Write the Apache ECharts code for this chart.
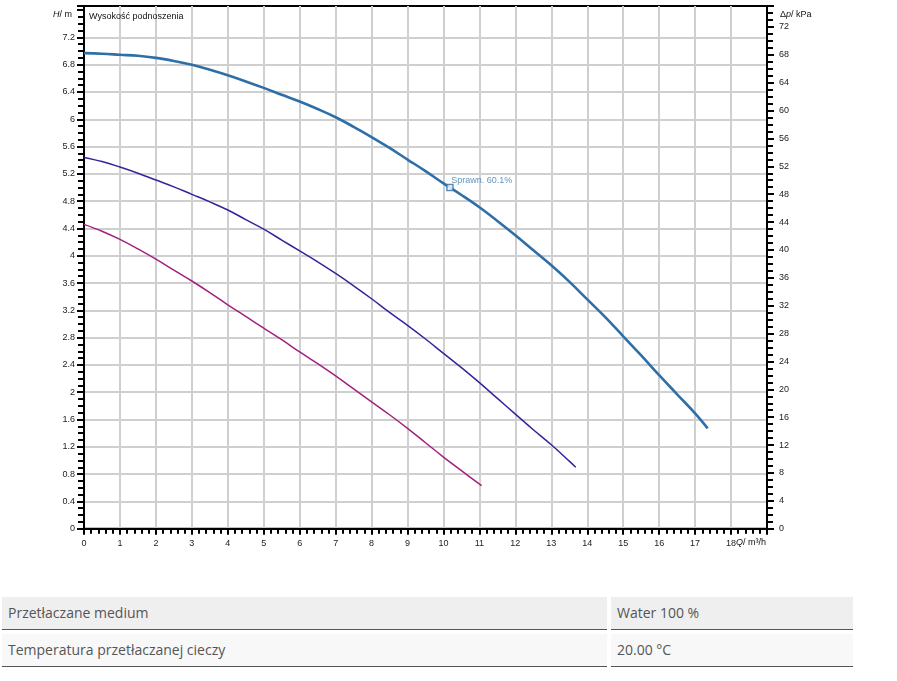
<!DOCTYPE html>
<html>
<head>
<meta charset="utf-8">
<script src="https://cdn.jsdelivr.net/npm/echarts@6/dist/echarts.min.js"></script>
<style>
  html, body { margin: 0; padding: 0; background: #fff; }
  #chart { position: absolute; left: 0; top: 0; width: 897px; height: 681px; }
  .cell { position: absolute; box-sizing: border-box; font-family: "Open Sans", sans-serif; font-size: 14px; color: #555; line-height: 31px; padding-left: 6px; border-bottom: 1px solid #555; }
</style>
</head>
<body>
<div id="chart"></div>
<div class="cell" style="left:2px; top:597px; width:605px; height:33px; background:#efefef;">Przetłaczane medium</div>
<div class="cell" style="left:611px; top:597px; width:242px; height:33px; background:#efefef;">Water 100 %</div>
<div class="cell" style="left:2px; top:634px; width:605px; height:33px; background:#f8f8f8;">Temperatura przetłaczanej cieczy</div>
<div class="cell" style="left:611px; top:634px; width:242px; height:33px; background:#f8f8f8;">20.00 °C</div>
<script>
// ---- data (Q in m³/h, H in m) ----
const qTop = [0,0.5,1,1.5,2,2.5,3,3.5,4,4.5,5,5.5,6,6.5,7,7.5,8,8.5,9,9.5,10,10.5,11,11.5,12,12.5,13,13.5,14,14.5,15,15.5,16,16.5,17,17.35];
const hTop = [6.97,6.96,6.945,6.93,6.90,6.855,6.80,6.725,6.645,6.555,6.46,6.36,6.26,6.15,6.03,5.89,5.74,5.58,5.41,5.24,5.06,4.89,4.71,4.51,4.30,4.08,3.86,3.62,3.36,3.10,2.82,2.54,2.25,1.97,1.69,1.47];
const qMid = [0,0.5,1,1.5,2,2.5,3,3.5,4,4.5,5,5.5,6,6.5,7,7.5,8,8.5,9,9.5,10,10.5,11,11.5,12,12.5,13,13.5,13.68];
const hMid = [5.44,5.38,5.30,5.21,5.11,5.01,4.90,4.79,4.67,4.53,4.39,4.23,4.07,3.91,3.74,3.56,3.37,3.17,2.98,2.78,2.57,2.36,2.14,1.91,1.68,1.45,1.23,0.99,0.90];
const qLow = [0,0.5,1,1.5,2,2.5,3,3.5,4,4.5,5,5.5,6,6.5,7,7.5,8,8.5,9,9.5,10,10.5,11.06];
const hLow = [4.46,4.36,4.24,4.10,3.95,3.79,3.63,3.46,3.28,3.11,2.94,2.77,2.59,2.42,2.24,2.05,1.86,1.67,1.47,1.26,1.05,0.85,0.63];
const opPoint = [10.18, 5.00];
const opLabel = 'Sprawn. 60.1%';
const xMax = 19, xLastLabel = 18;
const hMax = 7.66, hGridMax = 7.2, hStep = 0.4;
const pMax = 75, pStep = 4;

const pairs = (q, h) => q.map((v, i) => [v, h[i]]);

// ---- layout ----
const plotL = 84, plotT = 6, plotW = 683, plotH = 522.7;
const gridLinesH = plotH * hGridMax / hMax;
const FONT = 'Arial, "Liberation Sans", sans-serif';
const GRID_COLOR = '#cfcfcf';

const chart = echarts.init(document.getElementById('chart'), null, { renderer: 'canvas' });
chart.setOption({
  backgroundColor: '#fff',
  animation: false,
  textStyle: { fontFamily: FONT },
  grid: [
    { left: plotL, top: plotT, width: plotW, height: plotH, containLabel: false, outerBoundsMode: 'none',
      show: true, borderColor: '#000', borderWidth: 2, backgroundColor: 'transparent', z: 0 },
    { left: plotL, top: plotT + plotH - gridLinesH, width: plotW, height: gridLinesH, containLabel: false, outerBoundsMode: 'none',
      show: false }
  ],
  xAxis: [
    { gridIndex: 0, type: 'value', min: 0, max: xMax, interval: 1, z: 3,
      axisLine: { show: true, onZero: false, lineStyle: { color: '#000', width: 2 } },
      axisTick: { show: true, length: 6, lineStyle: { color: '#000', width: 2 } },
      minorTick: { show: true, splitNumber: 5, length: 5, lineStyle: { color: '#000', width: 2 } },
      axisLabel: { fontSize: 9, color: '#222', margin: 10, fontFamily: FONT,
        formatter: v => (v > xLastLabel ? '' : String(v)) },
      splitLine: { show: true, lineStyle: { color: GRID_COLOR, width: 2 } },
      minorSplitLine: { show: false }
    },
    { gridIndex: 1, type: 'value', min: 0, max: xMax, show: false, splitLine: { show: false } }
  ],
  yAxis: [
    { gridIndex: 0, type: 'value', position: 'left', min: 0, max: hMax, interval: hStep, z: 4,
      axisLine: { show: true, onZero: false, lineStyle: { color: '#000', width: 2 } },
      axisTick: { show: true, length: 7, lineStyle: { color: '#000', width: 2 } },
      minorTick: { show: true, splitNumber: 4, length: 6, lineStyle: { color: '#000', width: 2 } },
      axisLabel: { fontSize: 9, color: '#222', margin: 9, fontFamily: FONT,
        formatter: v => (v > hGridMax + 0.01 ? '' : String(Math.round(v * 10) / 10)) },
      splitLine: { show: false }
    },
    { gridIndex: 0, type: 'value', position: 'right', min: 0, max: pMax, interval: pStep, z: 4,
      axisLine: { show: true, onZero: false, lineStyle: { color: '#000', width: 2 } },
      axisTick: { show: true, length: 7, lineStyle: { color: '#000', width: 2 } },
      minorTick: { show: true, splitNumber: 4, length: 6, lineStyle: { color: '#000', width: 2 } },
      axisLabel: { fontSize: 9, color: '#222', margin: 12, fontFamily: FONT,
        formatter: v => (v % pStep !== 0 ? '' : String(v)) },
      splitLine: { show: false }
    },
    { gridIndex: 1, type: 'value', min: 0, max: hGridMax, interval: hStep, z: 1,
      axisLine: { show: false }, axisTick: { show: false }, axisLabel: { show: false },
      splitLine: { show: true, lineStyle: { color: GRID_COLOR, width: 2 } }
    }
  ],
  series: [
    { type: 'line', xAxisIndex: 0, yAxisIndex: 0, data: pairs(qLow, hLow), smooth: 0.4, showSymbol: false, z: 10,
      lineStyle: { color: '#a3217c', width: 1.5 } },
    { type: 'line', xAxisIndex: 0, yAxisIndex: 0, data: pairs(qMid, hMid), smooth: 0.4, showSymbol: false, z: 10,
      lineStyle: { color: '#36239a', width: 1.5 } },
    { type: 'line', xAxisIndex: 0, yAxisIndex: 0, data: pairs(qTop, hTop), smooth: 0.4, showSymbol: false, z: 10,
      lineStyle: { color: '#2f6fa7', width: 2.6 } },
    { type: 'scatter', xAxisIndex: 0, yAxisIndex: 0, data: [opPoint], z: 11,
      symbol: 'rect', symbolSize: 6,
      itemStyle: { color: '#fff', borderColor: '#2f6fa7', borderWidth: 1.5 },
      label: { show: true, formatter: opLabel, position: [5, -3], align: 'left', verticalAlign: 'middle',
        fontSize: 9, color: '#3b78b0', fontFamily: FONT } }
  ],
  graphic: [
    { type: 'text', left: 89, top: 12, z: 20,
      style: { text: 'Wysokość podnoszenia', font: '9px ' + FONT, fill: '#111' } },
    { type: 'text', right: 897 - 72, top: 10, z: 20,
      style: { text: '{i|H}/ m', font: '9px ' + FONT, fill: '#111', rich: { i: { fontStyle: 'italic', font: 'italic 9px ' + FONT } } } },
    { type: 'text', left: 780, top: 10, z: 20,
      style: { text: 'Δ{i|p}/ kPa', font: '9px ' + FONT, fill: '#111', rich: { i: { fontStyle: 'italic', font: 'italic 9px ' + FONT } } } },
    { type: 'text', left: 736, top: 538, z: 20,
      style: { text: '{i|Q}/ m³/h', font: '9px ' + FONT, fill: '#111', rich: { i: { fontStyle: 'italic', font: 'italic 9px ' + FONT } } } }
  ]
});
</script>
</body>
</html>
